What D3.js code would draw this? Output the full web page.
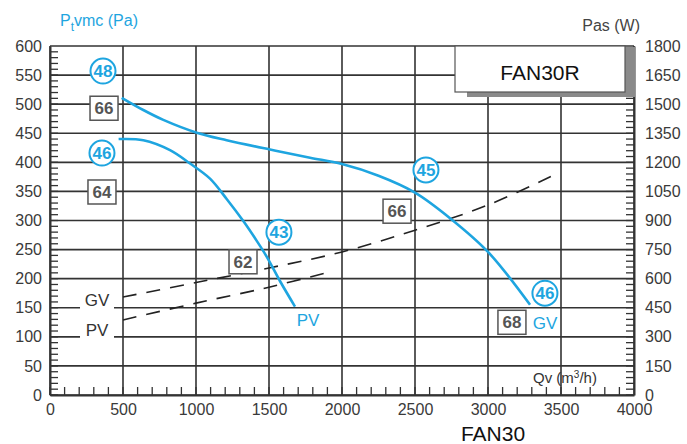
<!DOCTYPE html>
<html>
<head>
<meta charset="utf-8">
<script src="https://cdn.jsdelivr.net/npm/d3@7"></script>
<style>
  body { margin: 0; background: #fff; }
  svg text { font-family: "Liberation Sans", Arial, sans-serif; }
</style>
</head>
<body>
<div id="chart"></div>
<script>
// air flow (m3/h) and pressure (Pa) / power (W) ticks
var qvTicks = d3.range(0, 4001, 500);
var paTicks = d3.range(0, 601, 50);
var wTicks = d3.range(0, 1801, 150);

// pressure curves [Qv, Pa]
var gvPressure = [[491, 511], [639, 490], [776, 473], [1005, 451], [1210, 438], [1507, 422], [1781, 408],
    [2000, 397], [2250, 377], [2500, 348], [2740, 304], [3000, 246], [3288, 155]];
var pvPressure = [[470, 440], [639, 438], [822, 421], [959, 398], [1096, 372], [1210, 337],
    [1324, 299], [1416, 265], [1484, 238], [1575, 196], [1678, 152]];

// absorbed power curves [Qv, W]
var gvPower = [[500, 505], [1000, 580], [1500, 655], [2000, 738], [2500, 850], [3000, 980], [3480, 1145]];
var pvPower = [[500, 387], [1000, 474], [1500, 556], [1920, 636]];

// sound levels: circled = dB(A), boxed = dB
var circleLabels = [[363, 557, "48"], [356, 416, "46"], [1568, 280, "43"], [2575, 387, "45"], [3390, 175, "46"]];
var boxLabels = [[370, 493, "66"], [356, 349, "64"], [1322, 229, "62"], [2377, 316, "66"], [3164, 125, "68"]];

window.onload = function () {
    var W = 687, H = 444;
    var margin = {top: 46, right: 53, bottom: 49, left: 50};
    var blue = "#1ea5e0", grid = "#333";

    var svg = d3.select("#chart").append("svg")
        .attr("width", W).attr("height", H);

    var x = d3.scaleLinear().domain([0, 4000]).range([margin.left, W - margin.right]);
    var y = d3.scaleLinear().domain([0, 600]).range([H - margin.bottom, margin.top]);
    var yW = d3.scaleLinear().domain([0, 1800]).range([H - margin.bottom, margin.top]);

    // grid
    svg.append("g").selectAll("line").data(paTicks).enter().append("line")
        .attr("x1", x(0)).attr("x2", x(4000))
        .attr("y1", d => y(d)).attr("y2", d => y(d))
        .style("stroke", grid).style("stroke-width", 1.6);
    svg.append("g").selectAll("line").data(qvTicks).enter().append("line")
        .attr("x1", d => x(d)).attr("x2", d => x(d))
        .attr("y1", y(0)).attr("y2", y(600))
        .style("stroke", grid).style("stroke-width", 1.6);

    // minor ticks
    svg.append("g").selectAll("line").data(d3.range(0, 600, 10)).enter().append("line")
        .attr("x1", x(0)).attr("x2", x(0) + 8)
        .attr("y1", d => y(d)).attr("y2", d => y(d))
        .style("stroke", grid).style("stroke-width", 1.3);
    svg.append("g").selectAll("line").data(d3.range(0, 1800, 30)).enter().append("line")
        .attr("x1", x(4000)).attr("x2", x(4000) - 8)
        .attr("y1", d => yW(d)).attr("y2", d => yW(d))
        .style("stroke", grid).style("stroke-width", 1.3);
    svg.append("g").selectAll("line").data(d3.range(0, 4000, 100)).enter().append("line")
        .attr("x1", d => x(d)).attr("x2", d => x(d))
        .attr("y1", y(0)).attr("y2", y(0) - 8)
        .style("stroke", grid).style("stroke-width", 1.3);

    // axes
    var fmt = d3.format("d");
    var left = svg.append("g").attr("transform", "translate(" + x(0) + ",0)")
        .call(d3.axisLeft(y).tickValues(paTicks).tickFormat(fmt).tickSize(0).tickPadding(8));
    var right = svg.append("g").attr("transform", "translate(" + x(4000) + ",0)")
        .call(d3.axisRight(yW).tickValues(wTicks).tickFormat(fmt).tickSize(0).tickPadding(11));
    var bottom = svg.append("g").attr("transform", "translate(0," + y(0) + ")")
        .call(d3.axisBottom(x).tickValues(qvTicks).tickFormat(fmt).tickSize(0).tickPadding(9));
    [left, right, bottom].forEach(function (g) {
        g.select(".domain").style("stroke", grid).style("stroke-width", 2);
        g.selectAll("text").style("font-size", "16px").style("fill", "#3a3a3a")
            .style("font-family", "Liberation Sans, Arial, sans-serif");
    });

    // FAN30R box with shadow
    svg.append("rect").attr("x", 467).attr("y", 47).attr("width", 168).attr("height", 50).style("fill", "#8a8a8a");
    svg.append("rect").attr("x", 455).attr("y", 46).attr("width", 170).attr("height", 46)
        .style("fill", "#fff").style("stroke", "#555").style("stroke-width", 1.2);
    svg.append("text").attr("x", 540).attr("y", 80).attr("text-anchor", "middle")
        .style("font-size", "21px").style("fill", "#111").text("FAN30R");

    // power curves (dashed)
    var lineW = d3.line().x(d => x(d[0])).y(d => yW(d[1])).curve(d3.curveCatmullRom.alpha(0.5));
    [gvPower, pvPower].forEach(function (s) {
        svg.append("path").attr("d", lineW(s))
            .style("fill", "none").style("stroke", "#222").style("stroke-width", 1.6)
            .style("stroke-dasharray", "14,10");
    });

    // pressure curves
    var lineP = d3.line().x(d => x(d[0])).y(d => y(d[1])).curve(d3.curveCatmullRom.alpha(0.5));
    [gvPressure, pvPressure].forEach(function (s) {
        svg.append("path").attr("d", lineP(s))
            .style("fill", "none").style("stroke", blue).style("stroke-width", 2.6);
    });

    // GV / PV labels on the left (break the grid line)
    [[322, 163, "GV"], [322, 112, "PV"]].forEach(function (d) {
        svg.append("rect").attr("x", x(d[0]) - 17).attr("y", y(d[1]) - 9)
            .attr("width", 34).attr("height", 24).style("fill", "#fff");
        svg.append("text").attr("x", x(d[0])).attr("y", y(d[1]) + 6).attr("text-anchor", "middle")
            .style("font-size", "17px").style("fill", "#333").text(d[2]);
    });

    // curve end labels
    [[1767, 129, "PV"], [3390, 124, "GV"]].forEach(function (d) {
        svg.append("text").attr("x", x(d[0])).attr("y", y(d[1]) + 6).attr("text-anchor", "middle")
            .style("font-size", "17px").style("fill", blue).text(d[2]);
    });

    // circled dB(A)
    var c = svg.append("g").selectAll("g").data(circleLabels).enter().append("g")
        .attr("transform", d => "translate(" + x(d[0]) + "," + y(d[1]) + ")");
    c.append("circle").attr("r", 12.5).style("fill", "#fff").style("stroke", blue).style("stroke-width", 2);
    c.append("text").attr("y", 6).attr("text-anchor", "middle")
        .style("font-size", "17px").style("font-weight", "bold").style("fill", blue).text(d => d[2]);

    // boxed dB
    var b = svg.append("g").selectAll("g").data(boxLabels).enter().append("g")
        .attr("transform", d => "translate(" + x(d[0]) + "," + y(d[1]) + ")");
    b.append("rect").attr("x", -14).attr("y", -12).attr("width", 28).attr("height", 24)
        .style("fill", "#fff").style("stroke", "#555").style("stroke-width", 1.5);
    b.append("text").attr("y", 6).attr("text-anchor", "middle")
        .style("font-size", "17px").style("font-weight", "bold").style("fill", "#555").text(d => d[2]);

    // axis titles
    var t = svg.append("text").attr("x", 60).attr("y", 26).style("font-size", "16px").style("fill", blue);
    t.append("tspan").text("P");
    t.append("tspan").attr("dy", 5).style("font-size", "12px").text("t");
    t.append("tspan").attr("dy", -5).text("vmc (Pa)");

    svg.append("text").attr("x", 640).attr("y", 31).attr("text-anchor", "end")
        .style("font-size", "16px").style("fill", "#444").text("Pas (W)");

    var q = svg.append("text").attr("x", x(3527)).attr("y", y(29) + 5).attr("text-anchor", "middle")
        .style("font-size", "15px").style("fill", "#333");
    q.append("tspan").text("Qv (m");
    q.append("tspan").attr("dy", -5).style("font-size", "10px").text("3");
    q.append("tspan").attr("dy", 5).text("/h)");

    svg.append("text").attr("x", 493).attr("y", 441).attr("text-anchor", "middle")
        .style("font-size", "21px").style("fill", "#111").text("FAN30");
};
</script>
</body>
</html>
